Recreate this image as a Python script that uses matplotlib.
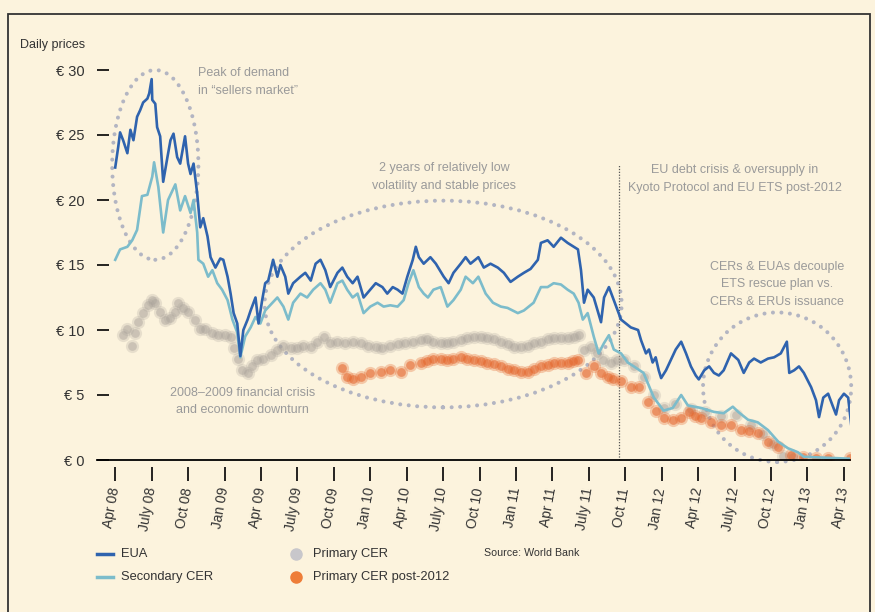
import numpy as np
import matplotlib
matplotlib.use("Agg")
import matplotlib.pyplot as plt
from matplotlib.patches import Ellipse, Rectangle
from matplotlib.lines import Line2D

plt.rcParams['font.family'] = ['Liberation Sans', 'DejaVu Sans']

# x values are months since April 2008
tick_labels = ["Apr 08", "July 08", "Oct 08", "Jan 09", "Apr 09", "July 09", "Oct 09",
               "Jan 10", "Apr 10", "July 10", "Oct 10", "Jan 11", "Apr 11", "July 11",
               "Oct 11", "Jan 12", "Apr 12", "July 12", "Oct 12", "Jan 13", "Apr 13"]
y_ticks = [0, 5, 10, 15, 20, 25, 30]

# EUA
eua_m = [0.0, 0.25, 0.4, 0.65, 1.0, 1.25, 1.5, 1.8, 2.05, 2.3, 2.65, 2.8, 3.0, 3.05, 3.3,
         3.45, 3.7, 3.95, 4.3, 4.55, 4.8, 5.1, 5.35, 5.75, 6.0, 6.2, 6.45, 6.75, 7.0, 7.25,
         7.6, 7.85, 8.25, 8.65, 8.9, 9.25, 9.5, 9.75, 10.05, 10.3, 10.55, 10.9, 11.15, 11.55,
         11.8, 12.1, 12.35, 12.6, 13.0, 13.35, 13.6, 14.0, 14.25, 14.65, 15.25, 15.65, 16.1,
         16.5, 16.9, 17.3, 17.7, 18.3, 18.7, 19.1, 19.55, 19.95, 20.45, 21.0, 21.45, 22.0,
         22.4, 22.85, 23.25, 23.65, 24.05, 24.5, 24.75, 25.0, 25.4, 25.95, 26.4, 27.05, 27.45,
         27.85, 28.45, 28.85, 29.25, 29.9, 30.35, 30.9, 31.5, 32.0, 32.55, 33.15, 33.65, 34.2,
         34.8, 35.05, 35.6, 36.1, 36.7, 37.25, 37.75, 38.1, 38.35, 38.6, 38.9, 39.4, 40.0,
         40.25, 40.65, 41.05, 41.65, 42.05, 42.45, 43.05, 43.3, 43.7, 43.95, 44.25, 44.5,
         44.75, 44.95, 45.35, 45.75, 46.15, 46.6, 47.0, 47.4, 47.8, 48.05, 48.5, 48.9, 49.3,
         49.7, 50.1, 50.7, 51.3, 51.75, 52.2, 52.6, 53.15, 53.75, 54.25, 54.8, 55.3, 55.5,
         55.9, 56.3, 56.7, 57.3, 57.7, 57.95, 58.3, 58.7, 59.1, 59.35, 59.6, 60.0, 60.35, 60.6]
eua_v = [22.5, 24.1, 25.2, 24.6, 23.6, 25.4, 24.6, 26.4, 26.9, 27.5, 27.8, 28.2, 29.3, 27.7, 27.4,
         25.6, 24.9, 21.4, 23.3, 24.6, 25.1, 23.3, 22.8, 24.9, 22.8, 22.0, 22.8, 20.5, 17.9, 18.6,
         17.2, 15.6, 14.8, 15.5, 15.4, 14.1, 12.8, 11.3, 10.5, 8.0, 10.0, 10.8, 11.5, 12.5,
         10.5, 12.3, 13.6, 13.8, 15.4, 14.1, 15.0, 14.1, 12.8, 13.6, 14.1, 14.4, 13.8,
         15.1, 15.4, 14.6, 13.3, 14.4, 14.8, 14.1, 13.6, 14.1, 12.5, 13.1, 13.6, 13.3,
         12.8, 13.3, 13.1, 12.8, 14.1, 15.4, 16.4, 15.6, 15.1, 15.6, 15.1, 14.1, 13.6,
         14.4, 15.1, 15.6, 15.1, 15.6, 14.8, 15.1, 14.8, 14.4, 13.7, 14.1, 14.4, 14.7,
         15.4, 16.7, 16.9, 16.4, 17.1, 16.7, 16.4, 16.2, 14.6, 12.1, 13.1, 12.5, 10.6,
         12.5, 13.3, 12.3, 10.8, 10.5, 10.2, 10.0, 9.2, 8.2, 8.5, 7.5, 7.9,
         6.9, 6.3, 6.9, 7.7, 8.5, 9.1, 8.2, 7.2, 6.5, 6.2, 6.9, 7.2, 6.7,
         6.5, 6.9, 8.2, 7.7, 6.7, 7.5, 7.8, 7.5, 7.8, 7.9, 8.2, 9.1, 6.7,
         6.9, 7.2, 6.7, 5.6, 4.6, 3.3, 4.8, 5.1, 4.1, 3.5, 4.6, 5.1, 4.8, 2.7]

# Secondary CER
sec_m = [0.0, 0.4, 1.0, 1.4, 1.8, 2.2, 2.65, 3.05, 3.2, 3.55, 3.95, 4.35, 4.95, 5.35, 5.75,
         6.2, 6.45, 6.75, 6.85, 7.25, 7.65, 8.0, 8.4, 8.8, 9.25, 9.65, 10.05, 10.3, 10.7,
         11.15, 11.55, 11.95, 12.35, 12.95, 13.35, 13.85, 14.25, 14.65, 15.25, 15.8, 16.3,
         16.9, 17.3, 17.7, 18.3, 18.7, 19.1, 19.55, 19.95, 20.45, 21.0, 21.6, 22.1, 22.65,
         23.25, 23.75, 24.15, 24.55, 25.0, 25.4, 25.75, 26.2, 26.8, 27.35, 27.85, 28.45,
         28.85, 29.45, 29.9, 30.5, 31.1, 31.75, 32.3, 33.15, 33.65, 34.45, 35.05, 35.6, 36.1,
         36.7, 37.25, 37.75, 38.15, 38.5, 38.9, 39.4, 39.8, 40.25, 40.65, 41.05, 41.65, 42.2,
         42.7, 43.5, 44.35, 45.15, 45.9, 46.6, 47.15, 48.25, 49.3, 50.1, 50.85, 51.3, 52.1,
         52.9, 53.75, 54.6, 55.4, 56.2, 56.7, 57.85, 59.2, 60.45]
sec_v = [15.4, 16.2, 16.4, 16.9, 17.7, 20.3, 20.4, 21.8, 22.9, 21.0, 17.5, 20.0, 21.2, 19.2, 20.3,
         19.0, 20.0, 17.5, 15.4, 15.1, 14.1, 14.6, 13.6, 13.1, 12.3, 10.8, 9.8, 7.9, 9.5,
         10.2, 11.0, 10.5, 11.5, 12.1, 12.5, 11.8, 10.8, 12.1, 12.8, 12.5, 13.1,
         13.6, 13.1, 12.1, 13.6, 13.8, 13.1, 12.5, 12.8, 11.3, 11.8, 12.1, 11.8, 11.9,
         11.8, 12.3, 13.6, 14.6, 13.3, 12.8, 12.5, 13.1, 13.3, 11.8, 12.3, 13.1,
         14.1, 13.6, 14.1, 12.8, 12.1, 11.8, 11.7, 11.3, 11.5, 12.1, 13.3, 13.3, 13.6,
         13.5, 13.1, 12.8, 12.1, 10.8, 11.3, 9.5, 8.2, 9.0, 9.6, 8.5, 8.2, 7.5,
         7.2, 6.7, 4.8, 3.8, 4.0, 5.0, 4.2, 4.0, 3.7, 3.6, 4.1, 3.7, 3.1,
         2.9, 2.3, 1.4, 0.9, 0.6, 0.25, 0.2, 0.15, 0.1]

# Primary CER
pcer_m = [0.6, 1.0, 1.4, 1.65, 1.9, 2.3, 2.7, 3.05, 3.3, 3.7, 4.1, 4.55, 4.95, 5.2, 5.6, 6.0,
          6.6, 7.0, 7.4, 8.0, 8.5, 9.05, 9.5, 9.75, 10.15, 10.45, 10.9, 11.3, 11.7, 12.2, 12.8,
          13.35, 13.85, 14.45, 15.0, 15.5, 16.1, 16.65, 17.15, 17.7, 18.3, 18.95, 19.55, 20.2,
          20.8, 21.45, 22.0, 22.65, 23.25, 23.9, 24.5, 25.15, 25.7, 26.2, 26.8, 27.35, 27.85,
          28.45, 29.0, 29.5, 30.1, 30.65, 31.15, 31.75, 32.3, 32.8, 33.4, 33.95, 34.45, 35.05,
          35.6, 36.1, 36.7, 37.25, 37.75, 38.15, 38.6, 39.15, 39.7, 40.2, 40.8, 41.35, 41.9,
          42.7, 43.5, 44.35, 45.15, 46.1, 47.4, 48.6, 49.9, 51.1, 52.35, 53.35, 54.2, 55.0, 55.8]
pcer_v = [9.6, 10.1, 8.8, 9.8, 10.6, 11.3, 11.9, 12.3, 12.1, 11.4, 10.8, 10.9, 11.4, 12.1, 11.7, 11.4,
          10.8, 10.1, 10.1, 9.8, 9.6, 9.6, 9.5, 8.6, 7.8, 6.9, 6.7, 7.2, 7.7, 7.8, 8.1,
          8.5, 8.8, 8.6, 8.6, 8.8, 8.7, 9.1, 9.5, 9.0, 9.1, 9.0, 9.1, 9.0,
          8.8, 8.7, 8.6, 8.8, 8.9, 9.0, 9.1, 9.2, 9.3, 9.1, 9.0, 9.0, 9.1,
          9.2, 9.4, 9.5, 9.5, 9.4, 9.3, 9.1, 8.9, 8.7, 8.7, 8.8, 9.0, 9.1,
          9.3, 9.4, 9.4, 9.4, 9.5, 9.6, 8.5, 8.7, 8.2, 7.7, 7.5, 7.7, 7.7,
          7.2, 6.4, 5.0, 4.0, 4.3, 3.9, 3.7, 3.4, 3.5, 2.7, 2.0, 1.2, 0.3, 0.2]

# Primary CER post-2012
post_m = [18.7, 19.1, 19.6, 20.2, 21.0, 21.85, 22.65, 23.5, 24.3, 25.15, 25.7, 26.2, 26.8, 27.35,
          27.85, 28.45, 29.0, 29.5, 30.1, 30.65, 31.15, 31.75, 32.3, 32.8, 33.4, 33.95, 34.45,
          35.05, 35.6, 36.1, 36.7, 37.25, 37.7, 38.1, 38.75, 39.4, 40.0, 40.55, 41.0, 41.65,
          42.45, 43.1, 43.85, 44.5, 45.15, 45.9, 46.6, 47.25, 47.75, 48.25, 49.05, 49.9, 50.7,
          51.5, 52.2, 52.95, 53.75, 54.6, 55.65, 56.65, 57.7, 58.7, 60.5]
post_v = [7.1, 6.4, 6.2, 6.4, 6.7, 6.8, 6.9, 6.8, 7.3, 7.5, 7.6, 7.8, 7.8, 7.7,
          7.8, 7.9, 7.8, 7.7, 7.6, 7.5, 7.4, 7.2, 7.0, 6.9, 6.8, 6.8, 7.0,
          7.2, 7.3, 7.5, 7.5, 7.5, 7.6, 7.7, 6.7, 7.2, 6.7, 6.4, 6.2, 6.1,
          5.6, 5.6, 4.5, 3.8, 3.2, 3.1, 3.2, 3.7, 3.4, 3.2, 2.9, 2.7, 2.7,
          2.3, 2.2, 2.1, 1.4, 1.0, 0.4, 0.25, 0.15, 0.15, 0.15]

bg = '#fcf3dd'
blue = '#2f63ae'
cyan = '#7cbccb'
grey_dot = '#a9a29a'
orange = '#e4652c'
note = '#9a9a9a'
dark = '#333333'

W, H = 875, 612
fig = plt.figure(figsize=(8.75, 6.12), dpi=100, facecolor=bg)
ax = fig.add_axes([97 / W, 1 - 460 / H, 753 / W, 403 / H])
ax.set_facecolor(bg)
ax.set_xlim(-1.5, 60.5)
ax.set_ylim(0, 31)

# dotted ellipses
for cx, cy, w, h in [(3.3, 22.7, 7.1, 14.6), (27.0, 12.0, 29.4, 15.9), (54.5, 5.6, 12.2, 11.5)]:
    ax.add_patch(Ellipse((cx, cy), w, h, fill=False, edgecolor='#b3b5c2', lw=2.9,
                         linestyle=(0, (0.01, 2.1)), capstyle='round', zorder=1, clip_on=False))

# vertical dotted line
ax.plot([41.5, 41.5], [0, 22.7], color='#555555', lw=0.9, linestyle=(0, (1, 1.3)), zorder=2)

ax.scatter(pcer_m, pcer_v, s=90, color=grey_dot, alpha=0.25, lw=0, zorder=3)
ax.scatter(pcer_m, pcer_v, s=40, color=grey_dot, alpha=0.45, lw=0, zorder=3)
ax.scatter(post_m, post_v, s=90, color=orange, alpha=0.3, lw=0, zorder=4)
ax.scatter(post_m, post_v, s=40, color=orange, alpha=0.55, lw=0, zorder=4)
ax.plot(sec_m, sec_v, color=cyan, lw=1.9, zorder=5, solid_joinstyle='round')
ax.plot(eua_m, eua_v, color=blue, lw=1.9, zorder=6, solid_joinstyle='round')

# axes styling
for s in ['top', 'right', 'left']:
    ax.spines[s].set_visible(False)
ax.spines['bottom'].set_position(('outward', 5))
ax.spines['bottom'].set_visible(False)
ax.axhline(0, color='black', lw=1.3, clip_on=False, zorder=7)

ax.set_xticks(np.arange(0, 61, 3))
ax.set_xticklabels(tick_labels, rotation=80, ha='right', va='center',
                   rotation_mode='anchor', fontsize=10, color=dark)
ax.tick_params(axis='x', direction='out', length=10, width=1.2, color='black', pad=5)

ax.set_yticks(y_ticks)
ax.set_yticklabels(['€ %d' % v for v in y_ticks], fontsize=10.5, color=dark)
ax.tick_params(axis='y', direction='in', length=8.5, width=1.2, color='black', pad=9)

# annotations
ax.text(6.8, 29.1, 'Peak of demand\nin “sellers market”', ha='left', va='center',
        fontsize=9, color=note, linespacing=1.65)
ax.text(27.1, 21.8, '2 years of relatively low\nvolatility and stable prices', ha='center',
        va='center', fontsize=9, color=note, linespacing=1.65)
ax.text(51.0, 21.6, 'EU debt crisis & oversupply in\nKyoto Protocol and EU ETS post-2012',
        ha='center', va='center', fontsize=9, color=note, linespacing=1.65)
ax.text(54.5, 13.5, 'CERs & EUAs decouple\nETS rescue plan vs.\nCERs & ERUs issuance',
        ha='center', va='center', fontsize=9, color=note, linespacing=1.6)
ax.text(10.5, 4.5, '2008–2009 financial crisis\nand economic downturn', ha='center',
        va='center', fontsize=9, color=note, linespacing=1.6)

fig.text(20 / W, 1 - 45 / H, 'Daily prices', fontsize=9, color=dark, va='center')

# legend
def fy(py):
    return 1 - py / H

fig.add_artist(Line2D([97 / W, 113 / W], [fy(554), fy(554)], color=blue, lw=2.5))
fig.add_artist(Line2D([97 / W, 113 / W], [fy(577), fy(577)], color=cyan, lw=2.5))
fig.text(121 / W, fy(554), 'EUA', fontsize=9.3, color=dark, va='center')
fig.text(121 / W, fy(577), 'Secondary CER', fontsize=9.3, color=dark, va='center')
fig.add_artist(Line2D([296 / W], [fy(554)], marker='o', markersize=8, color='#c8c7cb', lw=0))
fig.add_artist(Line2D([296 / W], [fy(577)], marker='o', markersize=8, color='#ee7d38', lw=0))
fig.text(313 / W, fy(554), 'Primary CER', fontsize=9.3, color=dark, va='center')
fig.text(313 / W, fy(577), 'Primary CER post-2012', fontsize=9.3, color=dark, va='center')
fig.text(484 / W, fy(553), 'Source: World Bank', fontsize=7.7, color=dark, va='center')

# frame
fig.add_artist(Rectangle((8 / W, -0.1), 862 / W, 1.1 - 14 / H, transform=fig.transFigure,
                         fill=False, edgecolor=dark, lw=1.3, clip_on=False))

fig.savefig('out.png', dpi=100, facecolor=bg)
